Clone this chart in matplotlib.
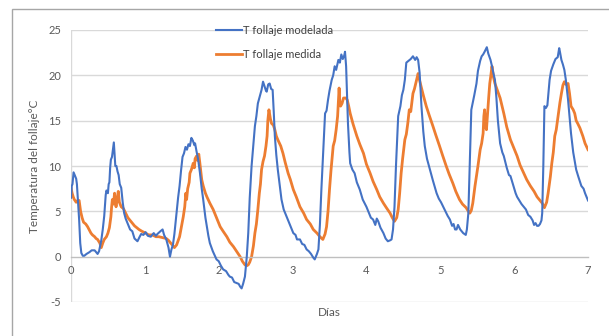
import matplotlib
matplotlib.use("Agg")
import matplotlib.pyplot as plt
from matplotlib.patches import Rectangle

plt.rcParams['font.family'] = ['Lato', 'DejaVu Sans']
plt.rcParams['axes.unicode_minus'] = False

# Foliage temperature, modelled series (days, °C)
dias_modelada = [
    0.00, 0.01, 0.02, 0.035, 0.05, 0.07, 0.08, 0.095, 0.11, 0.125, 0.14, 0.16, 0.18, 0.21,
    0.25, 0.28, 0.32, 0.34, 0.36, 0.38, 0.41, 0.43, 0.45, 0.47, 0.48, 0.50, 0.51, 0.52,
    0.53, 0.54, 0.555, 0.57, 0.58, 0.59, 0.60, 0.615, 0.63, 0.645, 0.66, 0.68, 0.70, 0.72,
    0.74, 0.77, 0.80, 0.83, 0.86, 0.90, 0.93, 0.95, 0.98, 1.01, 1.04, 1.08, 1.12, 1.15,
    1.17, 1.21, 1.24, 1.26, 1.29, 1.32, 1.34, 1.36, 1.38, 1.40, 1.42, 1.45, 1.47, 1.49,
    1.51, 1.53, 1.55, 1.57, 1.59, 1.61, 1.63, 1.65, 1.67, 1.68, 1.70, 1.72, 1.745, 1.77,
    1.79, 1.82, 1.84, 1.86, 1.88, 1.92, 1.97, 2.00, 2.03, 2.06, 2.10, 2.13, 2.15, 2.18,
    2.21, 2.24, 2.27, 2.29, 2.31, 2.33, 2.355, 2.38, 2.40, 2.42, 2.445, 2.46, 2.49, 2.51,
    2.53, 2.56, 2.58, 2.60, 2.62, 2.64, 2.65, 2.67, 2.69, 2.71, 2.73, 2.745, 2.76, 2.78,
    2.80, 2.83, 2.85, 2.88, 2.92, 2.95, 2.98, 3.01, 3.04, 3.06, 3.10, 3.13, 3.16, 3.19,
    3.22, 3.25, 3.28, 3.30, 3.33, 3.35, 3.37, 3.39, 3.42, 3.44, 3.46, 3.48, 3.50, 3.53,
    3.55, 3.57, 3.59, 3.62, 3.64, 3.66, 3.68, 3.70, 3.71, 3.725, 3.74, 3.75, 3.77, 3.78,
    3.81, 3.84, 3.87, 3.91, 3.95, 4.00, 4.03, 4.06, 4.09, 4.12, 4.14, 4.16, 4.19, 4.23,
    4.26, 4.29, 4.32, 4.34, 4.36, 4.38, 4.40, 4.43, 4.46, 4.48, 4.50, 4.52, 4.54, 4.57,
    4.60, 4.63, 4.66, 4.68, 4.70, 4.72, 4.745, 4.77, 4.79, 4.82, 4.86, 4.90, 4.95, 4.98,
    5.01, 5.04, 5.07, 5.10, 5.13, 5.16, 5.18, 5.20, 5.22, 5.24, 5.27, 5.31, 5.345, 5.36,
    5.38, 5.40, 5.42, 5.44, 5.46, 5.49, 5.51, 5.54, 5.56, 5.58, 5.60, 5.63, 5.65, 5.68,
    5.70, 5.72, 5.74, 5.76, 5.78, 5.81, 5.84, 5.86, 5.90, 5.93, 5.95, 5.99, 6.02, 6.04,
    6.07, 6.10, 6.13, 6.16, 6.19, 6.22, 6.25, 6.27, 6.29, 6.31, 6.33, 6.35, 6.37, 6.38,
    6.395, 6.41, 6.43, 6.45, 6.48, 6.50, 6.53, 6.56, 6.59, 6.61, 6.62, 6.64, 6.66, 6.68,
    6.70, 6.73, 6.75, 6.77, 6.80, 6.84, 6.87, 6.91, 6.94, 6.96, 6.98, 7.00]
t_modelada = [
    6.5, 7.8, 8.0, 9.3, 9.0, 8.6, 8.0, 6.0, 4.1, 1.5, 0.4, 0.1, 0.1, 0.3,
    0.5, 0.7, 0.7, 0.5, 0.3, 0.6, 1.8, 3.0, 4.5, 6.8, 7.3, 7.0, 8.0, 8.2,
    9.8, 10.7, 11.0, 12.0, 12.6, 11.2, 10.0, 10.0, 9.4, 9.0, 8.0, 7.6, 6.0, 4.8,
    4.2, 3.6, 3.0, 2.8, 2.0, 1.7, 2.2, 2.5, 2.4, 2.7, 2.3, 2.2, 2.6, 2.3,
    2.5, 2.8, 3.0, 2.4, 1.9, 1.0, 0.0, 0.8, 1.3, 2.5, 4.1, 6.5, 7.8, 9.5,
    11.0, 11.4, 12.1, 11.8, 12.4, 12.2, 13.1, 12.8, 12.3, 12.5, 11.6, 10.8, 9.3, 7.5,
    6.3, 4.3, 3.3, 2.3, 1.5, 0.6, -0.3, -0.5, -1.0, -1.4, -1.6, -2.0, -2.2, -2.3,
    -2.8, -2.9, -3.0, -3.3, -3.5, -3.0, -2.2, 0.0, 2.6, 6.5, 10.0, 11.5, 14.4, 15.5,
    16.9, 17.8, 18.4, 19.3, 18.8, 18.3, 18.2, 19.0, 19.1, 18.5, 18.4, 16.0, 13.3, 11.2,
    9.6, 7.6, 6.3, 5.2, 4.4, 3.8, 3.2, 2.6, 2.4, 1.9, 1.9, 1.4, 1.3, 0.8,
    0.6, 0.3, -0.1, -0.3, 0.3, 0.8, 3.5, 7.4, 12.5, 15.8, 16.1, 17.3, 18.3, 19.5,
    20.0, 21.0, 20.6, 21.7, 21.4, 22.3, 21.8, 22.2, 22.6, 21.0, 17.0, 14.7, 11.5, 10.3,
    9.6, 9.2, 8.2, 7.4, 6.3, 5.5, 4.9, 4.3, 4.1, 3.5, 4.2, 3.9, 3.2, 2.6,
    2.0, 1.7, 1.8, 1.9, 3.0, 5.5, 10.0, 15.5, 16.6, 17.8, 18.4, 19.5, 21.4, 21.6,
    21.8, 22.1, 21.7, 22.0, 21.7, 20.3, 16.6, 13.8, 12.2, 10.8, 9.6, 8.4, 7.0, 6.4,
    6.0, 5.5, 5.0, 4.5, 4.1, 3.4, 3.6, 3.0, 3.0, 3.5, 3.0, 2.6, 2.4, 3.0,
    4.8, 10.5, 16.2, 17.0, 17.8, 19.1, 20.5, 21.6, 22.1, 22.3, 22.6, 23.1, 22.4, 21.7,
    21.0, 20.2, 19.5, 17.5, 15.0, 12.5, 11.5, 11.1, 9.8, 9.0, 8.9, 7.8, 7.0, 6.6,
    6.2, 5.8, 5.5, 5.2, 4.6, 4.4, 4.0, 3.5, 3.7, 3.4, 3.4, 3.6, 4.0, 4.8,
    10.0, 16.6, 16.4, 16.7, 19.5, 20.5, 21.2, 21.8, 22.0, 23.0, 22.6, 21.7, 21.2, 20.6,
    19.5, 17.3, 15.4, 13.6, 11.5, 9.6, 8.8, 7.8, 7.5, 7.0, 6.6, 6.2]

# Foliage temperature, measured series (days, °C)
dias_medida = [
    0.00, 0.015, 0.03, 0.045, 0.07, 0.09, 0.11, 0.13, 0.15, 0.17, 0.20, 0.225, 0.25, 0.27,
    0.29, 0.32, 0.34, 0.36, 0.39, 0.41, 0.43, 0.45, 0.48, 0.50, 0.52, 0.54, 0.55, 0.56,
    0.575, 0.59, 0.60, 0.61, 0.625, 0.64, 0.655, 0.68, 0.71, 0.74, 0.77, 0.80, 0.83, 0.86,
    0.89, 0.92, 0.96, 1.01, 1.05, 1.10, 1.15, 1.19, 1.24, 1.29, 1.32, 1.35, 1.38, 1.40,
    1.43, 1.47, 1.50, 1.52, 1.54, 1.555, 1.565, 1.58, 1.60, 1.61, 1.63, 1.655, 1.67, 1.68,
    1.70, 1.715, 1.73, 1.745, 1.77, 1.79, 1.82, 1.84, 1.88, 1.925, 1.97, 2.02, 2.06, 2.11,
    2.15, 2.20, 2.25, 2.29, 2.32, 2.355, 2.38, 2.40, 2.42, 2.445, 2.47, 2.49, 2.51, 2.53,
    2.55, 2.565, 2.58, 2.60, 2.62, 2.64, 2.655, 2.665, 2.68, 2.70, 2.715, 2.74, 2.76, 2.78,
    2.80, 2.84, 2.87, 2.90, 2.94, 2.97, 3.01, 3.05, 3.10, 3.15, 3.19, 3.24, 3.28, 3.33,
    3.37, 3.41, 3.44, 3.46, 3.48, 3.50, 3.52, 3.55, 3.57, 3.59, 3.61, 3.62, 3.63, 3.64,
    3.65, 3.67, 3.69, 3.72, 3.74, 3.76, 3.78, 3.82, 3.87, 3.91, 3.96, 4.00, 4.05, 4.09,
    4.14, 4.18, 4.23, 4.27, 4.32, 4.35, 4.38, 4.41, 4.43, 4.45, 4.47, 4.49, 4.52, 4.54,
    4.56, 4.58, 4.60, 4.63, 4.65, 4.68, 4.70, 4.715, 4.73, 4.77, 4.81, 4.85, 4.90, 4.94,
    4.99, 5.03, 5.08, 5.12, 5.17, 5.21, 5.26, 5.30, 5.35, 5.38, 5.40, 5.42, 5.44, 5.47,
    5.51, 5.54, 5.56, 5.58, 5.59, 5.60, 5.61, 5.625, 5.64, 5.655, 5.67, 5.685, 5.70, 5.72,
    5.74, 5.77, 5.81, 5.84, 5.86, 5.90, 5.95, 6.00, 6.04, 6.08, 6.13, 6.17, 6.22, 6.27,
    6.31, 6.35, 6.38, 6.41, 6.44, 6.46, 6.49, 6.51, 6.53, 6.55, 6.57, 6.60, 6.62, 6.64,
    6.66, 6.68, 6.70, 6.73, 6.75, 6.77, 6.80, 6.82, 6.84, 6.86, 6.89, 6.93, 6.96, 7.00]
t_medida = [
    7.6, 7.0, 6.6, 6.3, 6.0, 6.2, 6.2, 5.0, 4.3, 3.8, 3.6, 3.3, 2.9, 2.6,
    2.4, 2.2, 2.0, 1.9, 1.5, 1.0, 1.5, 1.9, 2.2, 2.6, 3.2, 4.4, 5.5, 6.3,
    5.8, 7.0, 6.0, 5.5, 6.3, 7.2, 6.0, 5.5, 5.3, 4.8, 4.3, 4.0, 3.7, 3.4,
    3.2, 3.0, 2.8, 2.6, 2.4, 2.4, 2.2, 2.2, 2.1, 2.0, 1.8, 1.5, 1.2, 1.0,
    1.3, 2.2, 3.5, 4.4, 5.5, 7.0, 6.3, 7.5, 8.2, 9.2, 9.6, 10.3, 9.8, 10.8,
    11.1, 10.6, 11.3, 10.3, 8.5, 7.8, 7.0, 6.6, 5.9, 5.2, 4.3, 3.3, 2.8, 2.2,
    1.6, 1.1, 0.5, 0.0, -0.5, -0.9, -1.0, -0.9, -0.6, 0.0, 1.2, 2.6, 3.6, 5.2,
    7.0, 8.0, 9.6, 10.5, 11.1, 12.2, 13.3, 15.0, 16.2, 15.2, 14.7, 14.5, 14.0, 13.3,
    12.9, 12.2, 11.4, 10.4, 9.2, 8.5, 7.4, 6.6, 5.5, 4.8, 4.1, 3.6, 3.0, 2.6,
    2.2, 1.9, 2.5, 3.3, 5.0, 7.4, 9.5, 12.2, 12.8, 14.0, 15.5, 17.0, 18.6, 17.0,
    16.6, 16.9, 17.5, 17.5, 17.3, 16.6, 15.8, 14.6, 13.3, 12.4, 11.4, 10.2, 9.2, 8.3,
    7.4, 6.6, 5.9, 5.4, 4.8, 4.3, 3.9, 4.3, 5.2, 7.0, 9.2, 10.8, 12.9, 13.5,
    14.7, 16.2, 16.0, 18.0, 18.5, 19.5, 20.2, 19.6, 19.1, 17.8, 16.6, 15.6, 14.4, 13.4,
    12.2, 11.2, 10.0, 9.1, 8.1, 7.2, 6.3, 5.8, 5.4, 5.0, 4.8, 5.1, 5.9, 7.8,
    10.0, 11.8, 12.5, 13.6, 15.5, 16.2, 14.5, 14.0, 15.8, 17.5, 19.1, 20.0, 21.0, 19.8,
    19.1, 18.4, 17.5, 16.5, 15.8, 14.3, 12.9, 11.9, 11.1, 10.1, 9.2, 8.5, 7.8, 7.2,
    6.6, 6.2, 5.9, 5.4, 6.0, 7.0, 8.8, 10.3, 11.5, 13.3, 14.0, 15.8, 17.0, 18.0,
    18.9, 19.3, 19.0, 19.1, 18.0, 16.6, 16.2, 15.8, 15.0, 14.7, 14.2, 13.3, 12.5, 11.8]

x_ticks = [0, 1, 2, 3, 4, 5, 6, 7]
y_ticks = [-5, 0, 5, 10, 15, 20, 25]

W, H = 609, 336
fig = plt.figure(figsize=(W / 100, H / 100), dpi=100)

# outer chart border
fig.patches.append(Rectangle((12 / W, -0.1), 1.2, (H - 9) / H + 0.1,
                             transform=fig.transFigure, fill=False,
                             edgecolor='#a6a6a6', linewidth=1.0))

ax = fig.add_axes([71 / W, 1 - 302 / H, (588 - 71) / W, (302 - 30) / H])
ax.set_xlim(0, 7)
ax.set_ylim(-5, 25)

for y in y_ticks:
    if y != 0:
        ax.axhline(y, color='#d9d9d9', linewidth=1.0, zorder=0)
ax.axvline(0, color='#d9d9d9', linewidth=1.0, zorder=0)

ax.plot(dias_modelada, t_modelada, color='#4472C4', linewidth=1.5,
        label='T follaje modelada', zorder=3)
ax.plot(dias_medida, t_medida, color='#ED7D31', linewidth=2.0,
        label='T follaje medida', zorder=2)

for s in ['top', 'right', 'left']:
    ax.spines[s].set_visible(False)
ax.spines['bottom'].set_position(('data', 0))
ax.spines['bottom'].set_color('#bfbfbf')
ax.spines['bottom'].set_linewidth(1.0)

ax.set_xticks(x_ticks)
ax.set_yticks(y_ticks)
ax.tick_params(axis='both', length=0, labelsize=8, labelcolor='#595959')
ax.tick_params(axis='x', pad=6)
ax.tick_params(axis='y', pad=7)

ax.set_ylabel('Temperatura del follaje°C', fontsize=8.5, color='#595959', labelpad=6)
fig.text(329 / W, 1 - 313 / H, 'Días', fontsize=8.5, color='#595959',
         ha='center', va='center')

leg = ax.legend(loc='upper left', bbox_to_anchor=(216 / W, 1 - 25 / H),
                bbox_transform=fig.transFigure, frameon=False, fontsize=8,
                handlelength=2.3, handletextpad=0.15, labelspacing=1.2,
                borderpad=0, borderaxespad=0)
for t in leg.get_texts():
    t.set_color('#404040')

fig.savefig('out.png', dpi=100)
